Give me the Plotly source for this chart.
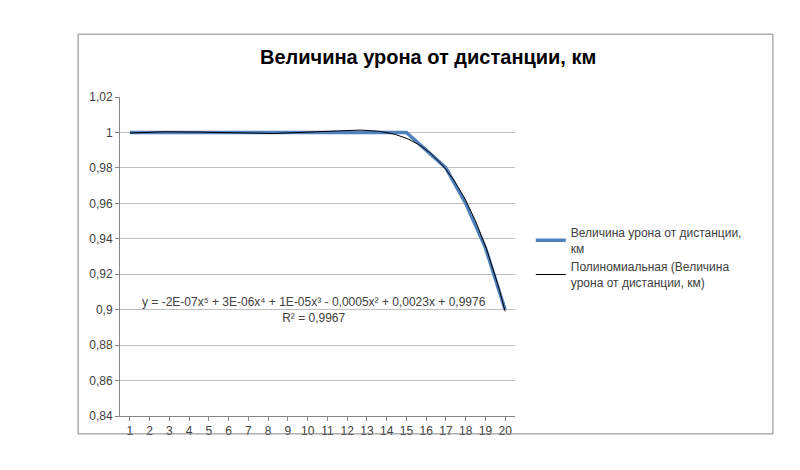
import numpy as np
import plotly.graph_objects as go

distance = list(range(1, 21))
damage = [1, 1, 1, 1, 1, 1, 1, 1, 1, 1, 1, 1, 1, 1, 1, 0.99, 0.98, 0.96, 0.935, 0.9]
y_ticks = [0.84, 0.86, 0.88, 0.9, 0.92, 0.94, 0.96, 0.98, 1, 1.02]
y_labels = ['0,84', '0,86', '0,88', '0,9', '0,92', '0,94', '0,96', '0,98', '1', '1,02']

# polynomial trendline fitted from the data (degree 5, like Excel)
coef = np.polyfit(distance, damage, 5)
x_fit = np.linspace(1, 20, 200)
y_fit = np.polyval(coef, x_fit)

fig = go.Figure()
fig.add_trace(go.Scatter(
    x=distance, y=damage, mode='lines',
    line=dict(color='#4F81BD', width=3.5),
    name='Величина урона от дистанции,<br>км',
))
fig.add_trace(go.Scatter(
    x=x_fit, y=y_fit, mode='lines',
    line=dict(color='black', width=1),
    name='Полиномиальная (Величина<br>урона от дистанции, км)',
))

# outer chart border
fig.add_shape(type='rect', xref='paper', yref='paper',
              x0=-0.106, x1=1.653, y0=-0.056, y1=1.197,
              line=dict(color='#868686', width=1))

fig.add_annotation(
    text='y = -2E-07x⁵ + 3E-06x⁴ + 1E-05x³ - 0,0005x² + 0,0023x + 0,9976<br>R² = 0,9967',
    xref='x', yref='y', x=10.3, y=0.9, showarrow=False,
    font=dict(size=12, color='#404040'), align='center',
)
fig.add_annotation(
    text='<b>Величина урона от дистанции, км</b>',
    xref='paper', yref='paper', x=0.78, y=1.085, xanchor='center', yanchor='bottom',
    showarrow=False, font=dict(size=20, color='black'),
)

fig.update_layout(
    width=800, height=470,
    margin=dict(l=112, r=293, t=89, b=62),
    paper_bgcolor='white', plot_bgcolor='white',
    font=dict(family='Liberation Sans, Arial, sans-serif', size=12, color='#404040'),
    showlegend=True,
    legend=dict(x=1.04, y=0.62, yanchor='top', font=dict(size=12, color='#404040'),
                tracegroupgap=14),
    xaxis=dict(range=[0.5, 20.5], tickmode='array', tickvals=distance,
               ticktext=[str(d) for d in distance], showgrid=False,
               showline=True, linecolor='#868686', ticks='outside', ticklen=4,
               tickcolor='#868686', zeroline=False),
    yaxis=dict(range=[0.84, 1.02], tickmode='array', tickvals=y_ticks,
               ticktext=y_labels, showgrid=True, gridcolor='#BFBFBF',
               showline=True, linecolor='#868686', ticks='outside', ticklen=4,
               tickcolor='#868686', zeroline=False),
)

fig.write_html("out.html")
